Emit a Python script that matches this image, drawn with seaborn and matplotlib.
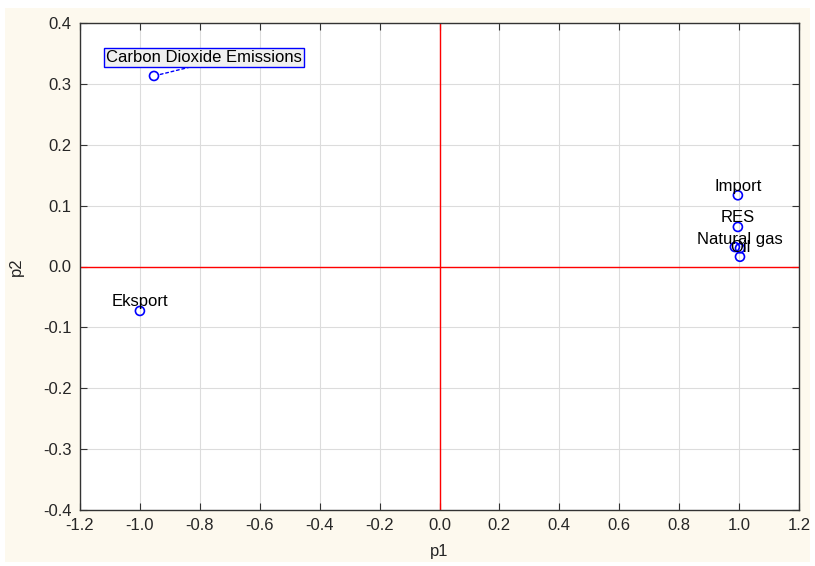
import matplotlib.pyplot as plt
import matplotlib.patches as mpatches
import numpy as np
import pandas as pd
import seaborn as sns

# data
names = ["Carbon Dioxide Emissions", "Eksport", "Import", "RES", "Natural gas", "Oil", ""]
p1 = [-0.953, -1.000, 0.996, 0.996, 1.003, 1.003, 0.986]
p2 = [0.313, -0.073, 0.117, 0.065, 0.030, 0.016, 0.032]
xticks = np.round(np.arange(-1.2, 1.21, 0.2), 1) + 0.0
yticks = np.round(np.arange(-0.4, 0.41, 0.1), 1) + 0.0

df = pd.DataFrame({"name": names, "p1": p1, "p2": p2})

sns.set_style("whitegrid", {"grid.color": "#dcdcdc", "axes.edgecolor": "#333333"})
plt.rcParams['font.family'] = ['Liberation Sans', 'DejaVu Sans']

fig = plt.figure(figsize=(8.15, 5.66), dpi=100, facecolor="white")
# cream frame behind everything
fig.patches.append(mpatches.Rectangle((5/815, 4/566), 805/815, 554/566,
                                      transform=fig.transFigure, facecolor="#fdf9ee",
                                      edgecolor="none", zorder=-10))
ax = fig.add_axes([80/815, 1-510/566, 719/815, 487/566])
ax.set_facecolor("white")

ax.axhline(0, color="red", lw=1, zorder=1)
ax.axvline(0, color="red", lw=1, zorder=1)

sns.scatterplot(data=df, x="p1", y="p2", ax=ax, marker="o", s=42,
                facecolor="none", edgecolor="blue", linewidth=1.2, zorder=3)

for _, r in df.iterrows():
    if r["name"] == "" or r["name"].startswith("Carbon"):
        continue
    ax.annotate(r["name"], (r["p1"], r["p2"]), xytext=(0, 6.5), textcoords="offset points",
                ha="center", va="center", fontsize=12, color="black", zorder=4)

# boxed label with dotted leader line
ax.annotate("Carbon Dioxide Emissions", (p1[0], p2[0]), xytext=(-0.786, 0.344),
            ha="center", va="center", fontsize=12, color="black",
            bbox=dict(boxstyle="square,pad=0.12", facecolor="#f0f0f0", edgecolor="blue", lw=1),
            arrowprops=dict(arrowstyle="-", color="blue", linestyle=(0, (2, 2)), lw=1,
                            relpos=(0.48, 0.0), shrinkA=0, shrinkB=4))

ax.set_xlim(-1.2, 1.2)
ax.set_ylim(-0.4, 0.4)
ax.set_xticks(xticks)
ax.set_yticks(yticks)
ax.set_xticklabels([f"{t:.1f}" for t in xticks])
ax.set_yticklabels([f"{t:.1f}" for t in yticks])
ax.tick_params(direction="in", length=5, width=0.8, color="#333333", labelsize=12,
               top=True, right=True, bottom=True, left=True, pad=6)
ax.set_xlabel("p1", fontsize=12, labelpad=8)
ax.set_ylabel("p2", fontsize=12, labelpad=14)
for s in ax.spines.values():
    s.set_linewidth(1)
    s.set_color("#333333")
    s.set_zorder(5)

fig.savefig("out.png", dpi=100, facecolor=fig.get_facecolor())
